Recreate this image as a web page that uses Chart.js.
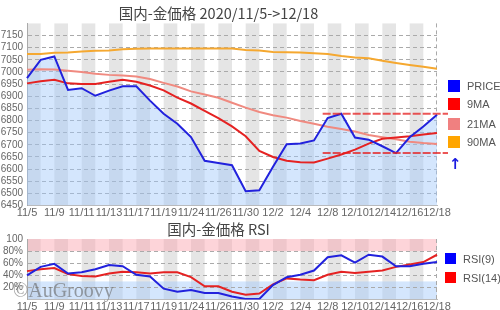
<!DOCTYPE html>
<html>
<head>
<meta charset="utf-8">
<script src="https://cdn.jsdelivr.net/npm/chart.js@4/dist/chart.umd.min.js"></script>
<style>
body { margin: 0; width: 500px; height: 310px; overflow: hidden; background: #fff; position: relative; font-family: "Liberation Sans", Arial, sans-serif; }
canvas { position: absolute; left: 0; }
#mainChart { top: 0; }
#rsiChart { top: 215px; }
.lg { position: absolute; font-size: 11px; color: #555; line-height: 12px; white-space: nowrap; }
.lg span { display: inline-block; width: 12px; height: 12px; vertical-align: top; margin-right: 7px; }
.lg2 span { width: 11px; height: 11px; }
#arrow { position: absolute; left: 449px; top: 155px; color: #1a1ae0; font-size: 15px; font-weight: bold; font-family: "DejaVu Sans", sans-serif; }
</style>
</head>
<body>
<canvas id="mainChart" width="465" height="222"></canvas>
<canvas id="rsiChart" width="465" height="100"></canvas>

<div class="lg" style="left:448px;top:80px"><span style="background:#0000ff"></span>PRICE</div>
<div class="lg" style="left:448px;top:98px"><span style="background:#ff0000"></span>9MA</div>
<div class="lg" style="left:448px;top:118px"><span style="background:#f08080"></span>21MA</div>
<div class="lg" style="left:448px;top:136px"><span style="background:#ffa500"></span>90MA</div>
<div id="arrow">↑</div>
<div class="lg lg2" style="left:445px;top:253px"><span style="background:#0000ff"></span>RSI(9)</div>
<div class="lg lg2" style="left:445px;top:272px"><span style="background:#ff0000"></span>RSI(14)</div>

<script>
// trading days 11/5 -> 12/18
const dates = ["11/5", "11/6", "11/9", "11/10", "11/11", "11/12", "11/13", "11/16", "11/17", "11/18",
    "11/19", "11/20", "11/24", "11/25", "11/26", "11/27", "11/30", "12/1", "12/2", "12/3",
    "12/4", "12/7", "12/8", "12/9", "12/10", "12/11", "12/14", "12/15", "12/16", "12/17", "12/18"];

const price = [6975, 7050, 7064, 6926, 6933, 6902, 6923, 6941, 6941, 6882,
    6828, 6787, 6732, 6634, 6625, 6616, 6509, 6513, 6610, 6702,
    6705, 6718, 6810, 6828, 6730, 6721, 6694, 6666, 6731, 6775, 6824];
const ma9 = [6953, 6962, 6968, 6953, 6950, 6950, 6960, 6968, 6960, 6944,
    6924, 6894, 6870, 6840, 6810, 6776, 6735, 6675, 6650, 6634,
    6628, 6627, 6643, 6660, 6680, 6705, 6725, 6730, 6735, 6742, 6749];
const ma21 = [7009, 7011, 7010, 7005, 7000, 6993, 6988, 6985, 6981, 6971,
    6955, 6940, 6920, 6907, 6894, 6873, 6853, 6835, 6822, 6812,
    6798, 6787, 6774, 6765, 6755, 6740, 6731, 6723, 6713, 6707, 6703];
const ma90 = [7074, 7074, 7079, 7080, 7084, 7087, 7088, 7094, 7096, 7097,
    7097, 7097, 7097, 7097, 7097, 7097, 7090, 7088, 7082, 7081,
    7080, 7077, 7074, 7066, 7060, 7056, 7046, 7037, 7029, 7021, 7013];

const rsi9 = [40, 54, 59, 43, 45, 50, 57, 55, 41, 38,
    18, 13, 16, 11, 11, 5, 1, 1, 24, 37,
    41, 48, 70, 73, 61, 74, 71, 55, 55, 59, 62];
const rsi14 = [47, 50, 52, 42, 39, 38, 43, 46, 45, 43,
    45, 45, 37, 22, 22, 13, 8, 10, 25, 35,
    33, 32, 41, 46, 44, 46, 48, 54, 58, 62, 74];

const rangeStart = 22; // high / low lines from 12/8
const recent = price.slice(rangeStart);
const rangeHigh = Math.max(...recent);
const rangeLow = Math.min(...recent);

const tickFont = { family: '"Liberation Sans", Arial, sans-serif', size: 11 };
const titleFont = { family: '"Noto Sans CJK JP", sans-serif', size: 14.5, weight: 'normal' };

// grey stripes every other day + dashed right edge
const stripes = {
    id: 'stripes',
    beforeDraw(chart) {
        const { ctx, chartArea: a, scales: { x, y } } = chart;
        ctx.save();
        ctx.fillStyle = 'rgba(0,0,0,0.1)';
        for (let i = 0; i < dates.length - 1; i += 2) {
            const x0 = x.getPixelForValue(i), x1 = x.getPixelForValue(i + 1);
            ctx.fillRect(x0, a.top, x1 - x0, a.bottom - a.top);
        }
        const zones = chart.options.plugins.stripes.zones || [];
        zones.forEach(z => {
            const y0 = y.getPixelForValue(z.to), y1 = y.getPixelForValue(z.from);
            ctx.fillStyle = z.color;
            ctx.fillRect(a.left, y0, a.right - a.left, y1 - y0);
        });
        ctx.strokeStyle = '#aaa';
        ctx.setLineDash([4, 3]);
        ctx.beginPath();
        ctx.moveTo(a.right - 0.5, a.top);
        ctx.lineTo(a.right - 0.5, a.bottom);
        ctx.stroke();
        ctx.restore();
    }
};

const rangeLines = {
    id: 'rangeLines',
    afterDatasetsDraw(chart) {
        const { ctx, chartArea: a, scales: { x, y } } = chart;
        const left = x.getPixelForValue(rangeStart) - 5;
        ctx.save();
        ctx.strokeStyle = 'rgba(230,30,30,0.75)';
        ctx.lineWidth = 2;
        ctx.setLineDash([8, 2]);
        [rangeHigh, rangeLow].forEach(v => {
            const py = y.getPixelForValue(v);
            ctx.beginPath();
            ctx.moveTo(left, py);
            ctx.lineTo(a.right + 11, py);
            ctx.stroke();
        });
        ctx.restore();
    }
};

const watermark = {
    id: 'watermark',
    afterDraw(chart) {
        const ctx = chart.ctx;
        ctx.save();
        ctx.font = '20px "Liberation Serif", serif';
        ctx.fillStyle = 'rgba(100,100,100,0.6)';
        ctx.textBaseline = 'alphabetic';
        ctx.fillText('©AuGroovy', 13, 82);
        ctx.restore();
    }
};

function line(label, data, color, extra) {
    return Object.assign({ label, data, borderColor: color, borderWidth: 2, pointRadius: 0, tension: 0, fill: false }, extra || {});
}

function xAxis(h) {
    return {
        grid: { display: false, drawTicks: false },
        border: { display: true, color: '#bbb' },
        ticks: {
            autoSkip: false, maxRotation: 0, minRotation: 0, padding: 1,
            color: '#666', font: tickFont,
            callback: (v, i) => i % 2 === 0 ? dates[i] : ''
        },
        afterFit: s => { s.height = h; }
    };
}

function yAxis(min, max, step, fmt) {
    return {
        min, max,
        ticks: { stepSize: step, autoSkip: false, color: '#666', font: { family: tickFont.family, size: 10 }, padding: 4, callback: fmt },
        grid: { drawTicks: false, color: c => (c.tick.value === min || c.tick.value === max) ? 'rgba(0,0,0,0)' : '#aaa' },
        border: { display: true, color: '#aaa', dash: [4, 3] },
        afterFit: s => { s.width = 27; }
    };
}

new Chart(document.getElementById('mainChart'), {
    type: 'line',
    data: {
        labels: dates,
        datasets: [
            line('PRICE', price, '#2222dd', { fill: 'start', backgroundColor: 'rgba(160,200,250,0.45)' }),
            line('9MA', ma9, '#e52222'),
            line('21MA', ma21, '#f08a80'),
            line('90MA', ma90, '#f5a830')
        ]
    },
    options: {
        responsive: false,
        animation: false,
        layout: { padding: { left: 0, right: 28, top: 0, bottom: 0 } },
        plugins: {
            legend: { display: false },
            tooltip: { enabled: false },
            filler: { drawTime: 'beforeDatasetsDraw' },
            title: { display: true, text: '国内-金価格 2020/11/5->12/18', color: '#444', font: titleFont, padding: { top: 5, bottom: 1 } },
            stripes: { zones: [] }
        },
        scales: {
            x: xAxis(16.5),
            y: yAxis(6450, 7200, 50, v => v === 7200 ? '' : v)
        }
    },
    plugins: [stripes, rangeLines]
});

new Chart(document.getElementById('rsiChart'), {
    type: 'line',
    data: {
        labels: dates,
        datasets: [
            line('RSI(9)', rsi9, '#2222dd'),
            line('RSI(14)', rsi14, '#e52222')
        ]
    },
    options: {
        responsive: false,
        animation: false,
        layout: { padding: { left: 0, right: 28, top: 0, bottom: 0 } },
        plugins: {
            legend: { display: false },
            tooltip: { enabled: false },
            title: { display: true, text: '国内-金価格 RSI', color: '#444', font: titleFont, padding: { top: 5.6, bottom: 1 } },
            stripes: { zones: [
                { from: 80, to: 100, color: 'rgba(250,160,170,0.45)' },
                { from: 0, to: 30, color: 'rgba(160,200,250,0.45)' }
            ] }
        },
        scales: {
            x: xAxis(15.4),
            y: yAxis(0, 100, 20, v => v === 0 ? '' : (v === 100 ? '100' : v + '%'))
        }
    },
    plugins: [stripes, watermark]
});
</script>
</body>
</html>
